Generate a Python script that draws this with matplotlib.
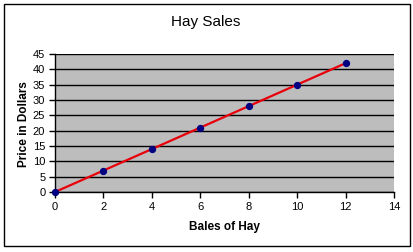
import numpy as np
import matplotlib
matplotlib.use("Agg")
import matplotlib.pyplot as plt
from matplotlib.patches import Rectangle

# data
bales = [0, 2, 4, 6, 8, 10, 12]
price = [0, 7, 14, 21, 28, 35, 42]
x_ticks = [0, 2, 4, 6, 8, 10, 12, 14]
y_ticks = [0, 5, 10, 15, 20, 25, 30, 35, 40, 45]

plt.rcParams['font.family'] = ['Liberation Sans', 'DejaVu Sans']

W, H = 413, 252
fig = plt.figure(figsize=(W / 100, H / 100), dpi=100)
fig.patch.set_facecolor('white')

# outer chart border
fig.add_artist(Rectangle((4 / W, 1 - 246 / H), 406 / W, 242 / H,
                         transform=fig.transFigure, fill=False,
                         edgecolor='black', linewidth=1))

ax = fig.add_axes([55 / W, 1 - 192 / H, (394 - 55) / W, (192 - 54) / H])
ax.set_facecolor('#bdbdbd')

ax.set_xlim(0, 14)
ax.set_ylim(0, 45)
ax.set_xticks(x_ticks)
ax.set_yticks(y_ticks)
ax.yaxis.grid(True, color='black', linewidth=1.0)
ax.set_axisbelow(True)

# linear trend line
k, b = np.polyfit(bales, price, 1)
xs = np.array([bales[0], bales[-1]])
ax.plot(xs, k * xs + b, color='#e8000b', linewidth=1.6, zorder=3)
ax.scatter(bales, price, s=18, color='#000080', zorder=4, clip_on=False)

for s in ax.spines.values():
    s.set_color('black')
    s.set_linewidth(1.0)
ax.spines['top'].set_visible(False)
ax.spines['right'].set_visible(False)

ax.tick_params(direction='out', length=4, width=1.0, labelsize=8,
               colors='black', pad=3)

ax.set_xlabel('Bales of Hay', fontsize=8.5, fontweight='bold', labelpad=7)
fig.text(24 / W, 1 - 124 / H, 'Price in Dollars', fontsize=8.5,
         fontweight='bold', rotation=90, ha='center', va='center')
fig.text(206 / W, 1 - 22 / H, 'Hay Sales', fontsize=11, ha='center', va='center')

fig.savefig('out.png', dpi=100)
